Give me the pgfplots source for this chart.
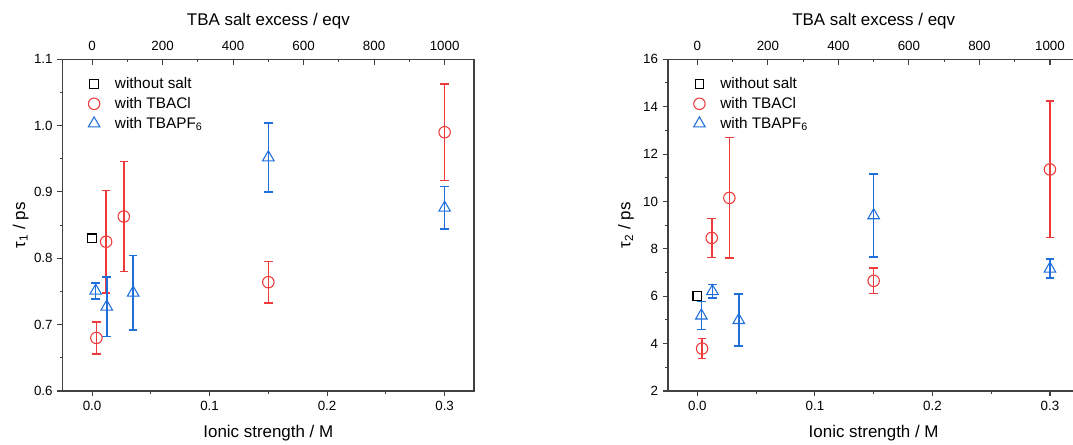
\documentclass[border=0pt]{standalone}
\usepackage{pgfplots}
\usepackage{pgfplotstable}
\pgfplotsset{compat=1.18}
\usepackage{fontspec}
\setmainfont{Liberation Sans}

\definecolor{cred}{RGB}{238,58,58}
\definecolor{cblue}{RGB}{30,110,220}
\definecolor{frame}{RGB}{64,64,64}

% tau_1 panel: x (ionic strength / M), y (ps), e (error)
\pgfplotstableread{
x      y      e
0.0    0.830  0
}\noA
\pgfplotstableread{
x      y      e
0.0037 0.680  0.024
0.012  0.825  0.077
0.027  0.863  0.083
0.150  0.764  0.031
0.300  0.990  0.073
}\clA
\pgfplotstableread{
x      y      e
0.0031 0.751  0.012
0.0125 0.727  0.045
0.035  0.748  0.056
0.150  0.952  0.052
0.300  0.876  0.032
}\pfA

% tau_2 panel
\pgfplotstableread{
x      y      e
0.0    6.00   0
}\noB
\pgfplotstableread{
x      y      e
0.0040 3.79   0.42
0.0122 8.46   0.82
0.0272 10.15  2.54
0.150  6.65   0.54
0.300  11.35  2.88
}\clB
\pgfplotstableread{
x      y      e
0.0034 5.18   0.59
0.0128 6.21   0.28
0.0352 4.99   1.10
0.150  9.41   1.75
0.300  7.16   0.40
}\pfB

\pgfplotsset{
  panel/.style={
    scale only axis, width=308.5pt, height=248.8pt, anchor=south west,
    xmin=-0.025, xmax=0.325,
    xtick={0,0.1,0.2,0.3}, minor x tick num=1, minor y tick num=1,
    xtick pos=left, ytick pos=left, tick align=outside,
    major tick length=4pt, minor tick length=2.3pt,
    axis line style={draw=frame, line width=0.9pt},
    every tick/.style={draw=frame, line width=0.8pt},
    tick label style={font=\fontsize{10}{12}\selectfont},
    label style={font=\fontsize{12.7}{15}\selectfont},
    xlabel={Ionic strength / M},
    xlabel style={at={(axis description cs:0.5,-0.127)}, anchor=center},
    ylabel style={at={(axis description cs:-0.102,0.5)}, anchor=center},
    xticklabel style={/pgf/number format/.cd, fixed, fixed zerofill, precision=1, assume math mode=true},
    scaled ticks=false,
    legend style={at={(axis description cs:0.052,0.962)}, anchor=north west,
      draw=none, fill=none, font=\fontsize{11.5}{13}\selectfont, row sep=1pt},
    legend cell align=left,
    legend image code/.code={\draw[##1] plot coordinates {(0cm,0cm)}; \path[draw=none, fill=none] (0cm,0cm) -- (0.48cm,0cm);},
    error bars/y dir=both, error bars/y explicit,
    error bars/error bar style={line width=1.2pt},
    error bars/error mark options={rotate=90, line width=1.2pt, mark size=3.2pt},
  },
  toppanel/.style={
    scale only axis, width=308.5pt, height=248.8pt, anchor=south west,
    xmin=-83.333, xmax=1083.333, ymin=0, ymax=1,
    axis x line*=top, axis y line=none,
    xtick={0,200,400,600,800,1000}, minor x tick num=1,
    tick align=inside, major tick length=4pt, minor tick length=2.3pt,
    axis line style={draw=frame, line width=0.9pt},
    every tick/.style={draw=frame, line width=0.8pt},
    tick label style={font=\fontsize{10}{12}\selectfont},
    xticklabel style={yshift=3pt, /pgf/number format/.cd, fixed, precision=0, 1000 sep={}, assume math mode=true},
    scaled ticks=false,
    xlabel={TBA salt excess / eqv},
    xlabel style={font=\fontsize{12.7}{15}\selectfont, at={(axis description cs:0.5,1.1155)}, anchor=center},
  },
  sq/.style={black, only marks, mark=square, mark size=3.3pt, mark options={fill=white, line width=0.8pt}},
  ci/.style={cred, only marks, mark=o, mark size=4.3pt, mark options={fill=white, line width=0.8pt}},
  tr/.style={cblue, only marks, mark=triangle, mark size=5pt, mark options={fill=white, line width=0.8pt}},
}

\begin{document}
\begin{tikzpicture}
\useasboundingbox (0,0) rectangle (804.75pt,333.75pt);

\begin{axis}[panel, at={(47pt,40.5pt)},
  ymin=0.6, ymax=1.1, ytick={0.6,0.7,0.8,0.9,1.0,1.1},
  yticklabel style={/pgf/number format/.cd, fixed, fixed zerofill, precision=1, assume math mode=true},
  ylabel={τ\textsubscript{1} / ps}]
\addplot[sq] table[x=x, y=y] \noA;
\addplot[ci] table[x=x, y=y, y error=e] \clA;
\addplot[tr] table[x=x, y=y, y error=e] \pfA;
\legend{without salt, with TBACl, with TBAPF\textsubscript{6}}
\end{axis}
\begin{axis}[toppanel, at={(47pt,40.5pt)}]
\end{axis}

\begin{axis}[panel, at={(501pt,40.5pt)},
  ymin=2, ymax=16, ytick={2,4,6,8,10,12,14,16},
  yticklabel style={/pgf/number format/.cd, fixed, precision=0, assume math mode=true},
  ylabel={τ\textsubscript{2} / ps}]
\addplot[sq] table[x=x, y=y] \noB;
\addplot[ci] table[x=x, y=y, y error=e] \clB;
\addplot[tr] table[x=x, y=y, y error=e] \pfB;
\legend{without salt, with TBACl, with TBAPF\textsubscript{6}}
\end{axis}
\begin{axis}[toppanel, at={(501pt,40.5pt)}]
\end{axis}
\end{tikzpicture}
\end{document}
